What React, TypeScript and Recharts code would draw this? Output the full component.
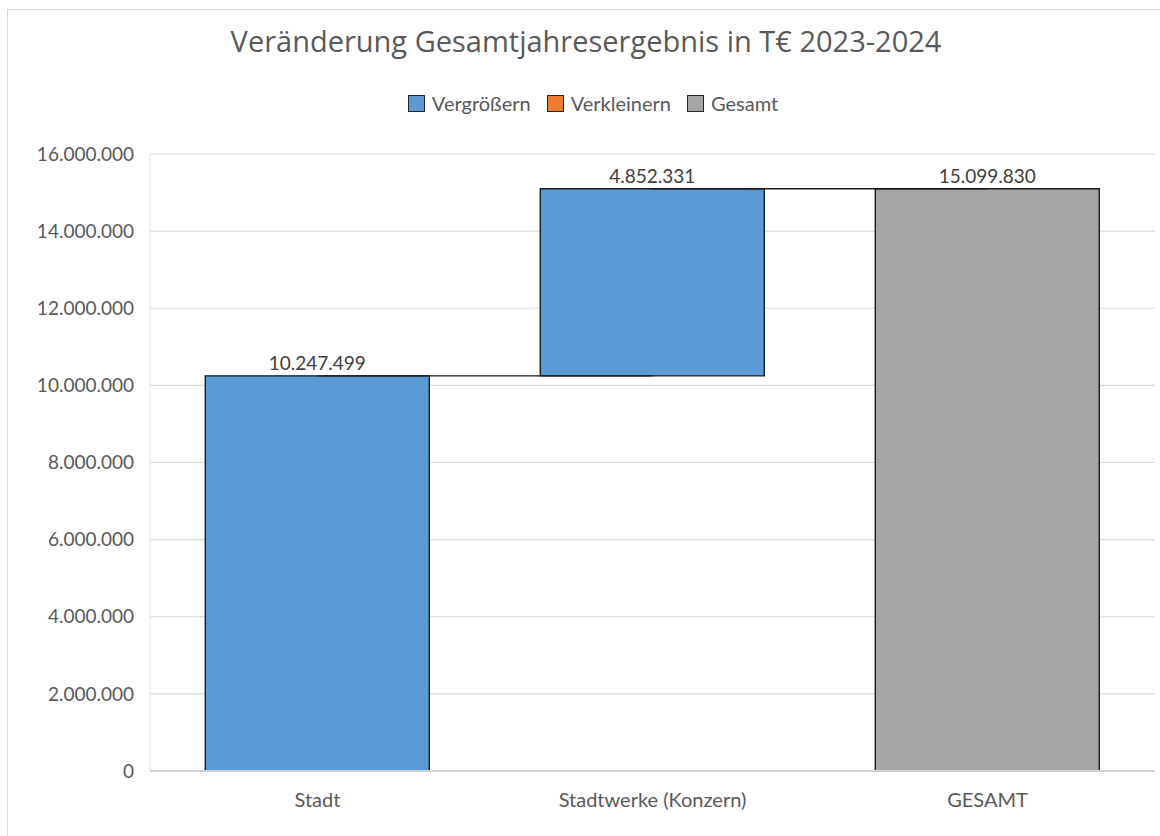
import React from 'react';
import { ComposedChart, Bar, XAxis, YAxis, CartesianGrid, LabelList, ReferenceLine } from 'recharts';

const categories = ['Stadt', 'Stadtwerke (Konzern)', 'GESAMT'];
const baseValues = [0, 10247499, 0];
const increaseValues = [10247499, 4852331, 0];
const decreaseValues = [0, 0, 0];
const totalValues = [0, 0, 15099830];
const yTicks = [0, 2000000, 4000000, 6000000, 8000000, 10000000, 12000000, 14000000, 16000000];

const COLORS = { increase: '#5B9BD5', decrease: '#ED7D31', total: '#A5A5A5' };
const legendItems = [
  { name: 'Vergrößern', color: COLORS.increase },
  { name: 'Verkleinern', color: COLORS.decrease },
  { name: 'Gesamt', color: COLORS.total },
];

const data = categories.map((c, i) => ({
  name: c,
  base: baseValues[i],
  increase: increaseValues[i],
  decrease: decreaseValues[i],
  total: totalValues[i],
}));

const fmt = (v: any) => {
  if (v === null || v === undefined || v === 0) return '';
  return String(Math.round(Number(v))).replace(/\B(?=(\d{3})+(?!\d))/g, '.');
};

// connector levels: running cumulative tops
const connectors = data.slice(0, -1).map((d, i) => ({
  from: d.name,
  to: data[i + 1].name,
  y: d.base + d.increase - d.decrease + d.total,
}));

const FONT = 'Lato, "Open Sans", sans-serif';

export default function App() {
  return (
    <div style={{ position: 'absolute', left: 0, top: 0, width: 1160, height: 836, background: '#fff', fontFamily: FONT, overflow: 'hidden' }}>
      <div style={{ position: 'absolute', left: 7, top: 9, width: 1200, height: 900, borderLeft: '1px solid #d9d9d9', borderTop: '1px solid #d9d9d9' }} />
      <div style={{ position: 'absolute', left: 0, top: 21, width: 1172, textAlign: 'center', fontSize: 29, color: '#595959', lineHeight: '40px', fontFamily: '"Open Sans", sans-serif' }}>
        Veränderung Gesamtjahresergebnis in T€ 2023-2024
      </div>
      <div style={{ position: 'absolute', left: 0, top: 90, width: 1186, display: 'flex', justifyContent: 'center', gap: 16, fontSize: 20, color: '#595959', lineHeight: '26px' }}>
        {legendItems.map((it) => (
          <div key={it.name} style={{ display: 'flex', alignItems: 'center' }}>
            <span style={{ display: 'inline-block', width: 15, height: 15, background: it.color, border: '1.5px solid #262626', marginRight: 7 }} />
            <span>{it.name}</span>
          </div>
        ))}
      </div>
      <div style={{ position: 'absolute', left: 0, top: 0 }}>
        <ComposedChart
          width={1160}
          height={836}
          data={data}
          margin={{ top: 154, right: 5, bottom: 0, left: 0 }}
          barCategoryGap="16.5%"
        >
          <CartesianGrid vertical={false} stroke="#d9d9d9" strokeWidth={1.2} />
          <XAxis
            dataKey="name"
            height={65}
            tickLine={false}
            tickSize={0}
            tickMargin={22}
            axisLine={{ stroke: '#d0d0d0', strokeWidth: 2 }}
            tick={{ fontSize: 20, fill: '#595959' }}
          />
          <YAxis
            width={150}
            domain={[0, 16000000]}
            ticks={yTicks}
            tickFormatter={(v: number) => (v === 0 ? '0' : fmt(v))}
            tickLine={false}
            tickSize={0}
            tickMargin={16}
            axisLine={{ stroke: '#e3e3e3', strokeWidth: 1 }}
            tick={{ fontSize: 19, fill: '#595959' }}
            interval={0}
          />
          <Bar dataKey="base" stackId="a" fill="transparent" stroke="none" isAnimationActive={false} legendType="none" />
          <Bar dataKey="increase" name="Vergrößern" stackId="a" fill={COLORS.increase} stroke="#1a1a1a" strokeWidth={1.4} isAnimationActive={false}>
            <LabelList dataKey="increase" position="top" offset={6} formatter={fmt} style={{ fontSize: 19, fill: '#404040' }} />
          </Bar>
          <Bar dataKey="decrease" name="Verkleinern" stackId="a" fill={COLORS.decrease} stroke="#1a1a1a" strokeWidth={1.4} isAnimationActive={false} />
          <Bar dataKey="total" name="Gesamt" stackId="a" fill={COLORS.total} stroke="#1a1a1a" strokeWidth={1.4} isAnimationActive={false}>
            <LabelList dataKey="total" position="top" offset={6} formatter={fmt} style={{ fontSize: 19, fill: '#404040' }} />
          </Bar>
          {connectors.map((c) => (
            <ReferenceLine
              key={c.from}
              segment={[{ x: c.from, y: c.y }, { x: c.to, y: c.y }]}
              stroke="#1a1a1a"
              strokeWidth={1.4}
            />
          ))}
        </ComposedChart>
      </div>
    </div>
  );
}
